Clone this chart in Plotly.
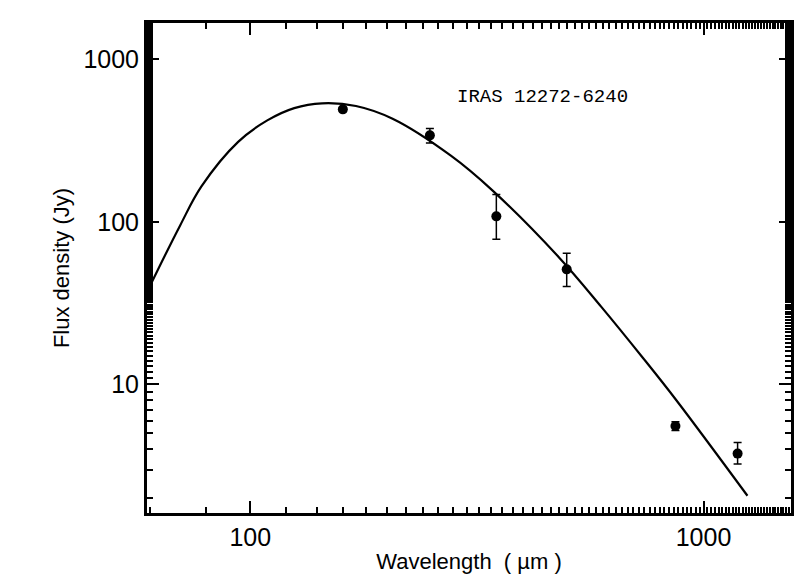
import plotly.graph_objects as go

wl = [160, 249, 349, 499, 867, 1189]
flux = [491, 340, 108, 51, 5.56, 3.76]
err_plus = [15, 35, 39, 13, 0.35, 0.64]
err_minus = [15, 35, 30, 11, 0.35, 0.51]

fit_wl = [59.7, 70, 78, 94, 109, 125, 144, 171, 206, 277, 343, 481, 595, 736, 871, 1250]
fit_flux = [39, 95, 165, 310, 420, 500, 535, 515, 430, 255, 155, 60, 30, 14.5, 8, 2.07]

fig = go.Figure()
fig.add_trace(go.Scatter(x=fit_wl, y=fit_flux, mode="lines", line=dict(color="black", width=2.2, shape="spline"),
                         showlegend=False))
fig.add_trace(go.Scatter(x=wl, y=flux, mode="markers", marker=dict(color="black", size=10),
                         error_y=dict(type="data", symmetric=False, array=err_plus, arrayminus=err_minus,
                                      color="black", thickness=1.5, width=4),
                         showlegend=False))

fig.add_annotation(x=0.478, y=0.875, xref="paper", yref="paper", text="IRAS 12272-6240", showarrow=False,
                   xanchor="left", font=dict(family="Liberation Mono", size=19, color="black"))

ax = dict(type="log", showline=True, linewidth=3, linecolor="black", mirror="allticks", ticks="inside",
          ticklen=12, tickwidth=2, tickcolor="black", showgrid=False, zeroline=False,
          tickfont=dict(family="Liberation Sans", size=25, color="black"),
          minor=dict(ticks="inside", ticklen=6, tickwidth=1.5, tickcolor="black", showgrid=False))
fig.update_xaxes(ax, range=[1.772, 3.193], tickvals=[100, 1000], ticktext=["100", "1000"],
                 title=dict(text="Wavelength  ( µm )", font=dict(family="Liberation Sans", size=22, color="black"), standoff=4))
fig.update_yaxes(ax, range=[0.21, 3.222], tickvals=[10, 100, 1000], ticktext=["10", "100", "1000"],
                 title=dict(text="Flux density (Jy)", font=dict(family="Liberation Sans", size=22, color="black"), standoff=8))

fig.update_layout(width=803, height=579, plot_bgcolor="white", paper_bgcolor="white",
                  margin=dict(l=139, r=20, t=15, b=74))
fig.write_html("out.html")
